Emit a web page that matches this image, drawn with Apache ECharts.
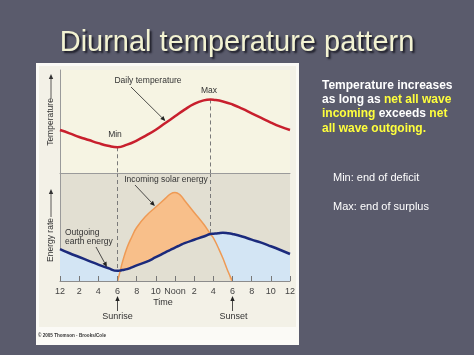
<!DOCTYPE html>
<html><head><meta charset="utf-8">
<script src="https://cdn.jsdelivr.net/npm/echarts@6/dist/echarts.min.js"></script>
<style>html,body{margin:0;padding:0;background:#5a5b6c;}#c{width:474px;height:355px;}</style>
</head><body><div id="c"></div>
<script>
// ---- data ----
const tickLabels = ['12','2','4','6','8','10','Noon','2','4','6','8','10','12'];
const tempHours  = [0,1,2,3,4,5,6,7,8,9,10,11,12,13,14,15,15.7,16,17,18,19,20,21,22,23,24];
const tempValues = [41.7,38.5,35,32,29,26.5,25,27.5,31.5,36.5,42,48.5,55,61.5,67,70.5,71.4,71.2,69.5,66.5,62.5,58,53.5,49,45,41.7];
const energyHours    = [0,1,2,3,4,5,6,6.3,6.5,7,7.5,8,9,10,11,11.5,12,12.5,13,14,15,15.7,16,16.5,17,17.5,18,19,20,21,22,23,24];
const outgoingValues = [29.6,25.7,22.2,18.7,15.2,12,9.4,9.8,10.2,11,12.6,14.4,17.7,22,26.5,28.7,31,33,35,38.2,41.2,43.5,43.8,44.3,44.7,44.3,43.5,41.2,38.3,35.5,32.2,28.7,25];
const solarValues    = [null,null,null,null,null,null,0,9.8,17,31,41,49.5,60.5,68.5,76.5,80.5,82,80,74.5,63.5,52.5,43.5,40,31,21,9.5,0,null,null,null,null,null,null];
const minHour = 6, maxHour = 15.7, sunriseHour = 6, sunsetHour = 18;

const FF = '"Liberation Sans", Arial, sans-serif';
const upperBg = '#f6f4e3', lowerBg = '#e2dfd2';
const pair = (hs, vs) => hs.map((h,i)=> vs[i]==null ? null : [h, vs[i]]).filter(p=>p);
const tempData  = pair(tempHours, tempValues);
const outData   = pair(energyHours, outgoingValues);
const solarData = pair(energyHours, solarValues);
const floorData = energyHours.map((h,i)=>[h, solarValues[i]==null ? 0 : Math.min(solarValues[i], outgoingValues[i])]);
const tMin = tempValues[tempHours.indexOf(minHour)];
const tMax = tempValues[tempHours.indexOf(maxHour)];
const oMin = outgoingValues[energyHours.indexOf(minHour)];
const oMax = outgoingValues[energyHours.indexOf(maxHour)];

const dash = {type:[4,3], color:'#7a7a7a', width:1};
const chart = echarts.init(document.getElementById('c'), null, {renderer:'canvas'});
const option = {
  animation:false,
  backgroundColor:'#5a5b6c',
  grid:[
    {left:60, top:70, width:230, height:103, show:true, backgroundColor:upperBg, borderWidth:0},
    {left:60, top:173, width:230, height:108, show:true, backgroundColor:lowerBg, borderWidth:0}
  ],
  xAxis:[
    {gridIndex:0, type:'value', min:0, max:24, interval:2, z:10,
     axisLine:{show:true, lineStyle:{color:'#9a9a9a', width:1}}, axisTick:{show:false}, axisLabel:{show:false}, splitLine:{show:false}},
    {gridIndex:1, type:'value', min:0, max:24, interval:2, z:10,
     axisLine:{show:true, lineStyle:{color:'#8c8c8c', width:1}},
     axisTick:{show:true, inside:true, length:5, lineStyle:{color:'#777'}},
     axisLabel:{formatter:v=>tickLabels[Math.round(v/2)], color:'#444', fontSize:9, fontFamily:FF, margin:6, showMinLabel:true, showMaxLabel:true},
     splitLine:{show:false}}
  ],
  yAxis:[
    {gridIndex:0, type:'value', min:0, max:100, axisLine:{show:true, lineStyle:{color:'#9a9a9a'}}, axisTick:{show:false}, axisLabel:{show:false}, splitLine:{show:false}},
    {gridIndex:1, type:'value', min:0, max:100, axisLine:{show:true, lineStyle:{color:'#9a9a9a'}}, axisTick:{show:false}, axisLabel:{show:false}, splitLine:{show:false}}
  ],
  series:[
    {type:'line', xAxisIndex:0, yAxisIndex:0, data:tempData, smooth:true, symbol:'none', z:5,
     lineStyle:{color:'#c81f2d', width:2.5},
     markLine:{silent:true, symbol:['none','none'], label:{show:false}, lineStyle:dash,
       data:[[{coord:[minHour,tMin]},{coord:[minHour,0]}],[{coord:[maxHour,tMax]},{coord:[maxHour,0]}]]}},
    {type:'line', xAxisIndex:1, yAxisIndex:1, data:outData, smooth:true, symbol:'none', z:1,
     lineStyle:{width:0}, areaStyle:{color:'#d3e5f4', opacity:1}},
    {type:'line', xAxisIndex:1, yAxisIndex:1, data:solarData, smooth:true, symbol:'none', z:2,
     lineStyle:{width:0}, areaStyle:{color:'#f8bf8a', opacity:1}},
    {type:'line', xAxisIndex:1, yAxisIndex:1, data:floorData, smooth:true, symbol:'none', z:3,
     lineStyle:{width:0}, areaStyle:{color:lowerBg, opacity:1}},
    {type:'line', xAxisIndex:1, yAxisIndex:1, data:solarData, smooth:true, symbol:'none', z:5,
     lineStyle:{color:'#ee9a55', width:1.5}},
    {type:'line', xAxisIndex:1, yAxisIndex:1, data:outData, smooth:true, symbol:'none', z:6,
     lineStyle:{color:'#1b2a7c', width:2.5},
     markLine:{silent:true, symbol:['none','none'], label:{show:false}, lineStyle:dash,
       data:[[{coord:[minHour,100]},{coord:[minHour,oMin]}],[{coord:[maxHour,100]},{coord:[maxHour,oMax]}]]}}
  ]
};
chart.setOption(option);

function arrow(x1,y1,x2,y2,len,hw,color){
  len = len||5; hw = hw||2.2; color = color||'#222';
  const dx=x2-x1, dy=y2-y1, L=Math.hypot(dx,dy), ux=dx/L, uy=dy/L;
  const bx=x2-ux*len, by=y2-uy*len;
  return [
    {type:'line', silent:true, z:50, shape:{x1:x1,y1:y1,x2:bx,y2:by}, style:{stroke:color, lineWidth:0.8}},
    {type:'polygon', silent:true, z:50, shape:{points:[[x2,y2],[bx-uy*hw,by+ux*hw],[bx+uy*hw,by-ux*hw]]}, style:{fill:color}}
  ];
}
function txt(t,x,y,opt){
  opt = opt||{};
  return {type:'text', silent:true, z:opt.z||50, x:x, y:y, rotation:opt.rot||0,
    style:Object.assign({text:t, fill:'#333', fontSize:8.5, fontFamily:FF, align:'center', verticalAlign:'middle'}, opt.style||{})};
}
const p0 = v => chart.convertToPixel({gridIndex:0}, v);
const p1 = v => chart.convertToPixel({gridIndex:1}, v);
const tipTemp  = p0([11, tempValues[tempHours.indexOf(11)]]);
const tipSolar = p1([10, solarValues[energyHours.indexOf(10)]]);
const tipOut   = p1([5, outgoingValues[energyHours.indexOf(5)]]);
const xRise = chart.convertToPixel({xAxisIndex:1}, sunriseHour);
const xSet  = chart.convertToPixel({xAxisIndex:1}, sunsetHour);

const g = [
  {type:'rect', silent:true, z:-100, shape:{x:36,y:63,width:263,height:282}, style:{fill:'#fbfaf6'}},
  {type:'rect', silent:true, z:-99, shape:{x:39,y:66,width:257,height:261}, style:{fill:'#f3f1e7'}},
  txt('Diurnal temperature pattern', 237, 43, {style:{fontSize:29, fill:'#f3f3d2', textShadowColor:'rgba(20,20,30,0.9)', textShadowOffsetX:2, textShadowOffsetY:2, textShadowBlur:2}}),
  txt('Temperature', 51, 122, {rot:Math.PI/2}),
  txt('Energy rate', 51, 240, {rot:Math.PI/2}),
  ...arrow(51,99,51,74,5,2.2,'#333'),
  ...arrow(51,217,51,189,5,2.2,'#333'),
  txt('Daily temperature', 148, 81),
  ...arrow(131,87,tipTemp[0],tipTemp[1]-2),
  txt('Max', 209, 91),
  txt('Min', 115, 135),
  txt('Incoming solar energy', 166, 180),
  ...arrow(135,185,tipSolar[0]-1,tipSolar[1]-1),
  txt('Outgoing', 65, 233, {style:{align:'left'}}),
  txt('earth energy', 65, 242, {style:{align:'left'}}),
  ...arrow(96,247,tipOut[0]-1,tipOut[1]-1),
  txt('Time', 163, 303, {style:{fontSize:9}}),
  ...arrow(xRise,311,xRise,296,5,2.2,'#222'),
  txt('Sunrise', xRise, 317, {style:{fontSize:9}}),
  ...arrow(xSet,311,xSet,296,5,2.2,'#222'),
  txt('Sunset', xSet+1, 317, {style:{fontSize:9}}),
  txt('© 2005 Thomson - Brooks/Cole', 38, 336, {style:{fontSize:4.6, align:'left', fill:'#333', fontWeight:'bold'}}),
  {type:'text', silent:true, z:50, x:322, y:78,
   style:{text:'{w|Temperature increases}\n{w|as long as }{y|net all wave}\n{y|incoming}{w| exceeds }{y|net}\n{y|all wave outgoing.}',
     fontFamily:FF, fontSize:12, fontWeight:'bold', lineHeight:14.4, align:'left', verticalAlign:'top',
     rich:{w:{fill:'#ffffff', fontFamily:FF, fontSize:12, fontWeight:'bold', lineHeight:14.4},
           y:{fill:'#ffff3c', fontFamily:FF, fontSize:12, fontWeight:'bold', lineHeight:14.4}}}},
  txt('Min: end of deficit', 333, 178, {style:{fontSize:11, fill:'#ffffff', align:'left'}}),
  txt('Max: end of surplus', 333, 207, {style:{fontSize:11, fill:'#ffffff', align:'left'}})
];
chart.setOption({graphic:{elements:g}});
</script>
</body></html>
